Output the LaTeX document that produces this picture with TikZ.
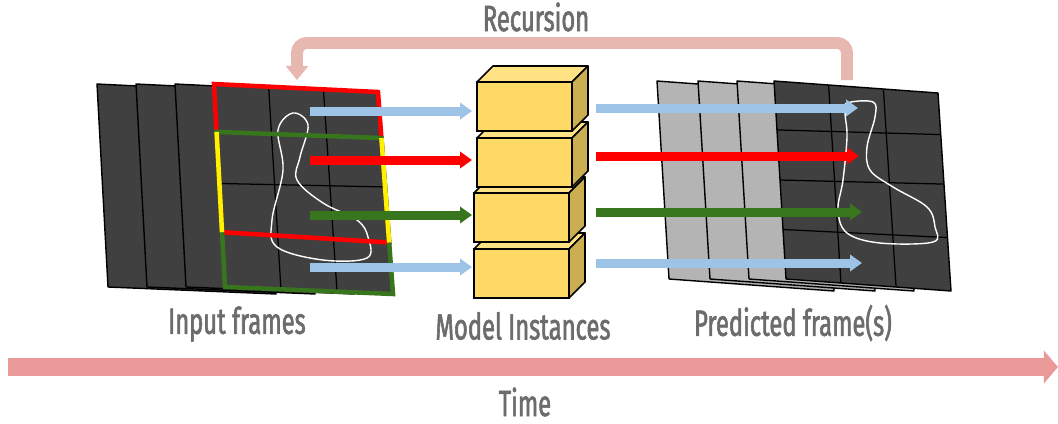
\documentclass[tikz,border=0pt]{standalone}
\usepackage{fontspec}
\setmainfont{Fira Sans}[FakeStretch=0.65,FakeBold=1.6]
\usetikzlibrary{arrows.meta,calc}
\definecolor{labelGray}{RGB}{108,108,108}
\definecolor{frameDark}{RGB}{64,64,64}
\definecolor{frameLight}{RGB}{180,180,180}
\definecolor{arrowBlue}{RGB}{157,195,230}
\definecolor{arrowGreen}{RGB}{56,118,29}
\definecolor{cubeFront}{RGB}{255,217,102}
\definecolor{cubeTopC}{RGB}{255,226,132}
\definecolor{cubeSideC}{RGB}{204,174,82}
\definecolor{recPink}{RGB}{230,184,175}
\definecolor{timePink}{RGB}{234,153,153}
\begin{document}
\begin{tikzpicture}
[x=0.025cm,y=-0.025cm,
  frameDecorate/.style={draw=black,line width=1pt,line join=round},
  gridDecorate/.style={draw=black,line width=0.9pt},
  windowDecorate/.style={line width=3.2pt,line cap=butt},
  blobDecorate/.style={draw=white,line width=1pt},
  arrowDecorate/.style={line width=6.4pt,-{Triangle[width=11.5pt,length=8.5pt]}},
  cubeDecorate/.style={shape=rectangle,draw=black,line width=1.1pt,fill=cubeFront,
    minimum width=2.375cm,minimum height=1.225cm,inner sep=0pt,outer sep=0pt},
  cubeTop/.style={draw=black,line width=1.1pt,fill=cubeTopC,line join=round},
  cubeSide/.style={draw=black,line width=1.1pt,fill=cubeSideC,line join=round},
  labelDecorate/.style={text=labelGray,font=\fontsize{26}{30}\selectfont,inner sep=0pt}]
\useasboundingbox (0,0) rectangle (1058,423);
%% input frames
\foreach \x in {97,136,175}
{
  \draw[frameDecorate,fill=frameDark] (\x,84) -- ++(164,8) -- ++(15,202) -- ++(-168,-7) -- cycle;
}
\coordinate (lTL) at (214,84);
\coordinate (lTR) at (378,92);
\coordinate (lBR) at (393,294);
\coordinate (lBL) at (225,287);
\draw[frameDecorate,fill=frameDark] (lTL) -- (lTR) -- (lBR) -- (lBL) -- cycle;
\foreach \f in {0.333,0.667}
{
  \draw[gridDecorate] ($(lTL)!\f!(lTR)$) -- ($(lBL)!\f!(lBR)$);
}
\draw[gridDecorate] ($(lTL)!0.49!(lBL)$) -- ($(lTR)!0.47!(lBR)$);
\draw[blobDecorate] plot[smooth cycle,tension=0.6] coordinates {
  (293,113) (308,125) (300,157) (297,180) (323,203) (357,220) (368,237)
  (367,258) (323,260) (277,247) (272,220) (283,170) (278,130)};
%% sliding windows
\coordinate (l24) at ($(lTL)!0.236!(lBL)$);
\coordinate (r24) at ($(lTR)!0.228!(lBR)$);
\coordinate (l74) at ($(lTL)!0.73!(lBL)$);
\coordinate (r74) at ($(lTR)!0.745!(lBR)$);
\draw[windowDecorate,draw=red] (l74) -- (lTL) -- (lTR) -- (r74) -- cycle;
\draw[windowDecorate,draw=arrowGreen] (l24) -- (r24) -- (lBR) -- (lBL) -- cycle;
\draw[windowDecorate,draw=yellow] (l24) -- (l74);
\draw[windowDecorate,draw=yellow] (r24) -- (r74);
%% predicted frames
\foreach \x in {657,698,737}
{
  \draw[frameDecorate,fill=frameLight] (\x,81) -- ++(164,12) -- ++(13,198) -- ++(-165,-12) -- cycle;
}
\coordinate (rTL) at (774,81);
\coordinate (rTR) at (938,93);
\coordinate (rBR) at (951,291);
\coordinate (rBL) at (786,279);
\draw[frameDecorate,fill=frameDark] (rTL) -- (rTR) -- (rBR) -- (rBL) -- cycle;
\foreach \f in {0.333,0.667}
{
  \draw[gridDecorate] ($(rTL)!\f!(rTR)$) -- ($(rBL)!\f!(rBR)$);
}
\foreach \a/\b in {0.247/0.21, 0.5/0.46, 0.75/0.73}
{
  \draw[gridDecorate] ($(rTL)!\a!(rBL)$) -- ($(rTR)!\b!(rBR)$);
}
\draw[blobDecorate] plot[smooth cycle,tension=0.6] coordinates {
  (847,103) (873,102) (875,117) (867,147) (870,170) (893,187) (927,207)
  (935,227) (933,242) (880,243) (847,233) (838,210) (843,180) (847,137) (845,113)};
%% model instances
\foreach \n/\x/\y in {4/474/249, 3/474/193, 2/477/138, 1/477/82}
{
  \node (cube\n) at (\x+47.5,\y+24.5) [cubeDecorate] {};
  \draw[cubeTop] (cube\n.north west) -- ++(16,-16) -- ++(95,0) -- (cube\n.north east) -- cycle;
  \draw[cubeSide] (cube\n.north east) -- ++(16,-16) -- ++(0,49) -- (cube\n.south east) -- cycle;
}
%% arrows into and out of the model
\foreach \name/\col/\yin/\yout/\xout in {
  a/arrowBlue/111/108/858, b/red/160/156/859, c/arrowGreen/215/212/862, d/arrowBlue/267/263/862}
{
  \coordinate (inFrom\name) at (310,\yin);
  \coordinate (inTo\name) at (472,\yin);
  \coordinate (outFrom\name) at (596,\yout);
  \coordinate (outTo\name) at (\xout,\yout);
  \draw[arrowDecorate,draw=\col,fill=\col] (inFrom\name) -- (inTo\name);
  \draw[arrowDecorate,draw=\col,fill=\col] (outFrom\name) -- (outTo\name);
}
%% recursion and time
\coordinate (recFrom) at (847,80);
\coordinate (recTo) at (297,80);
\draw[recPink,line width=8.5pt,rounded corners=7pt,-{Triangle[width=15.6pt,length=10pt]}]
  (recFrom) -- (847,43) -- (297,43) -- (recTo);
\coordinate (timeFrom) at (8,367);
\coordinate (timeTo) at (1058,367);
\draw[timePink,line width=12.8pt,-{Triangle[width=22.8pt,length=10pt]}] (timeFrom) -- (timeTo);
%% labels
\node (recLabel) at (536,17) [labelDecorate] {Recursion};
\node (inputLabel) at (237,324) [labelDecorate] {Input frames};
\node (modelLabel) at (523,326) [labelDecorate] {Model Instances};
\node (predLabel) at (793,323) [labelDecorate] {Predicted frame(s)};
\node (timeLabel) at (525,402) [labelDecorate] {Time};
\end{tikzpicture}
\end{document}
